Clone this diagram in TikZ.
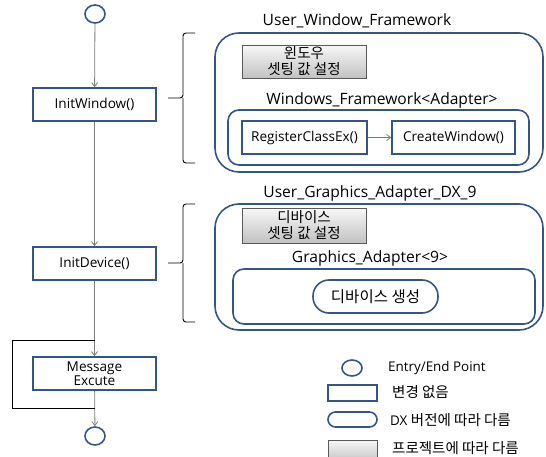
\documentclass[tikz,border=0pt]{standalone}
\usepackage{fontspec}
\setmainfont{Open Sans}
\newfontfamily\kr{Noto Sans CJK KR}
\usetikzlibrary{arrows.meta,shapes.geometric,shadows}
\definecolor{bl}{RGB}{52,86,134}
\definecolor{ln}{RGB}{125,125,125}
\begin{document}
\begin{tikzpicture}[x=1pt,y=-1pt,
  bbox/.style={draw=bl,line width=1.6pt,fill=white,inner sep=0pt,font=\fontsize{13.6}{14.5}\selectfont,align=center},
  rbox/.style={draw=bl,line width=1.6pt,inner sep=0pt},
  gbox/.style={draw=black!65,line width=0.6pt,top color=black!3,bottom color=black!24,inner sep=0pt,
     drop shadow={shadow xshift=1.2pt,shadow yshift=-1.2pt,opacity=0.35},font=\kr\fontsize{14.5}{16}\selectfont,align=center},
  ent/.style={draw=bl,line width=1.6pt,ellipse,inner sep=0pt,minimum width=20pt,minimum height=18pt},
  hd/.style={font=\fontsize{15.6}{17}\selectfont,inner sep=0pt},
  lg/.style={font=\fontsize{13.4}{15}\selectfont,inner sep=0pt,anchor=west},
  kl/.style={font=\kr\fontsize{14.5}{16}\selectfont},
  flow/.style={draw=ln,line width=0.8pt,-{Straight Barb[length=4pt,width=6pt]}},
  brace/.style={draw=black,line width=0.9pt,rounded corners=3pt}]
\useasboundingbox (0,0) rectangle (546,457);
% left flow
\node[ent] (start) at (95,14) {};
\node[bbox,minimum width=123pt,minimum height=33pt] (iw) at (94.5,104.5) {InitWindow()};
\node[bbox,minimum width=123pt,minimum height=33pt] (id) at (94.5,263.5) {InitDevice()};
\node[bbox,minimum width=123pt,minimum height=33pt] (me) at (94.5,373.5) {Message\\Excute};
\node[ent] (stop) at (95,436) {};
\coordinate (lp1) at (95,340);
\coordinate (lp2) at (95,408);
\draw[flow] (start) -- (iw);
\draw[flow] (iw) -- (id);
\draw[flow] (id) -- (me);
\draw[flow] (me) -- (stop);
\draw[black,line width=0.6pt] (lp1) -- (12,340) -- (12,408) -- (lp2);
% braces
\draw[brace] (195,33) -- (183,33) -- (183,98) -- (168,98);
\draw[brace] (183,98) -- (183,163) -- (195,163);
\draw[brace] (195,204) -- (183,204) -- (183,263) -- (168,263);
\draw[brace] (183,263) -- (183,322) -- (195,322);
% User_Window_Framework
\node[hd] (t1) at (357,21) {User\_Window\_Framework};
\node[rbox,rounded corners=24pt,minimum width=328pt,minimum height=139pt] (uwf) at (379,102.5) {};
\node[gbox,minimum width=124pt,minimum height=33pt] (g1) at (304,61.5) {윈도우\\셋팅 값 설정};
\node[hd] (t2) at (382,100) {Windows\_Framework<Adapter>};
\node[rbox,rounded corners=11pt,minimum width=301pt,minimum height=55pt] (wf) at (378.5,137.5) {};
\node[bbox,minimum width=125pt,minimum height=33pt] (reg) at (304.5,137.5) {RegisterClassEx()};
\node[bbox,minimum width=123pt,minimum height=33pt] (cw) at (453.5,137.5) {CreateWindow()};
\draw[flow] (reg) -- (cw);
% User_Graphics_Adapter_DX_9
\node[hd] (t3) at (370,193) {User\_Graphics\_Adapter\_DX\_9};
\node[rbox,rounded corners=24pt,minimum width=328pt,minimum height=126pt] (uga) at (379,267) {};
\node[gbox,minimum width=124pt,minimum height=35pt] (g2) at (304,225.5) {디바이스\\셋팅 값 설정};
\node[hd] (t4) at (370,258) {Graphics\_Adapter<9>};
\node[rbox,rounded corners=11pt,minimum width=302pt,minimum height=55pt] (ga) at (384,296.5) {};
\node[bbox,rounded corners=16pt,minimum width=125pt,minimum height=33pt,font=\kr\fontsize{15.5}{17}\selectfont] (dev) at (375.5,296.5) {디바이스 생성};
% legend
\node[ent,minimum width=20pt,minimum height=16pt] (l1) at (352,368) {};
\node[lg] (l1t) at (388,368) {Entry/End Point};
\node[bbox,minimum width=49pt,minimum height=16pt] (l2) at (352.5,393) {};
\node[lg,kl] (l2t) at (392,392) {변경 없음};
\node[bbox,rounded corners=7.5pt,minimum width=49pt,minimum height=15pt] (l3) at (352.5,419.5) {};
\node[lg] (l3t) at (390,420) {DX {\kr\fontsize{14.5}{16}\selectfont 버전에 따라 다름}};
\node[gbox,minimum width=49pt,minimum height=22pt] (l4) at (352.5,451) {};
\node[lg,kl] (l4t) at (392,448) {프로젝트에 따라 다름};
\end{tikzpicture}
\end{document}
